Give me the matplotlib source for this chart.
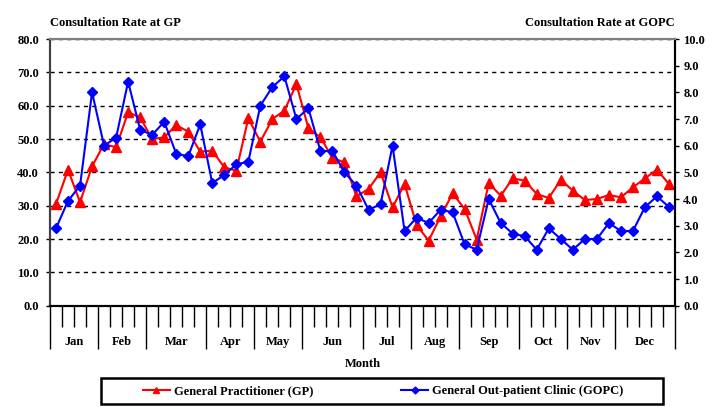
import matplotlib
matplotlib.use("Agg")
import matplotlib.pyplot as plt
import numpy as np
from matplotlib.lines import Line2D
from matplotlib.patches import Rectangle

months = ["Jan", "Feb", "Mar", "Apr", "May", "Jun",
          "Jul", "Aug", "Sep", "Oct", "Nov", "Dec"]
weeks_per_month = [4, 4, 5, 4, 4, 5, 4, 4, 5, 4, 4, 5]

# weekly consultation rate at GP (left axis)
gp_rate = [30.5, 40.8, 31.0, 41.8, 48.5, 47.5, 58.0, 56.5, 50.0, 50.5,
           54.2, 52.2, 46.2, 46.5, 41.5, 40.5, 56.2, 49.2, 56.0, 58.5,
           66.5, 53.2, 50.5, 44.3, 43.0, 32.8, 35.0, 40.0, 29.5, 36.5,
           24.2, 19.5, 26.8, 33.7, 29.0, 19.8, 36.8, 33.0, 38.2, 37.5,
           33.5, 32.3, 37.8, 34.5, 31.7, 32.0, 33.2, 32.5, 35.5, 38.2,
           40.8, 36.5]

# weekly consultation rate at GOPC (right axis)
gopc_rate = [2.9, 3.93, 4.5, 8.0, 6.0, 6.3, 8.4, 6.6, 6.4, 6.9,
             5.7, 5.6, 6.8, 4.6, 4.9, 5.3, 5.4, 7.5, 8.2, 8.6,
             7.0, 7.4, 5.8, 5.8, 5.0, 4.5, 3.6, 3.8, 6.0, 2.8,
             3.3, 3.1, 3.6, 3.5, 2.3, 2.1, 4.0, 3.1, 2.7, 2.6,
             2.1, 2.9, 2.5, 2.1, 2.5, 2.5, 3.1, 2.8, 2.8, 3.7,
             4.1, 3.7]

plt.rcParams["font.family"] = ["Liberation Serif", "DejaVu Serif"]
plt.rcParams["font.weight"] = "bold"
plt.rcParams["font.size"] = 9

W, H = 724, 419
ax_h = 266.7
fig = plt.figure(figsize=(W / 100, H / 100), dpi=100)
ax = fig.add_axes([50 / W, 1 - 305.7 / H, 625 / W, ax_h / H])
ax2 = ax.twinx()

x = np.arange(len(gp_rate))

ax.plot(x, gp_rate, color="#FF0000", lw=1.5, marker="^", ms=7,
        mfc="#FF0000", mec="#FF0000", zorder=3, clip_on=False)
ax2.plot(x, gopc_rate, color="#0000FF", lw=1.5, marker="D", ms=5,
         mfc="#0000FF", mec="#0000FF", zorder=3, clip_on=False)

ax.set_xlim(-0.5, len(gp_rate) - 0.5)
ax.set_ylim(0, 80)
ax2.set_ylim(0, 10)
ax.set_yticks(np.arange(0, 81, 10))
ax2.set_yticks(np.arange(0, 11, 1))
ax.set_yticklabels([f"{v:.1f}" for v in np.arange(0, 81, 10)], fontweight="bold")
ax2.set_yticklabels([f"{v:.1f}" for v in np.arange(0, 11, 1)], fontweight="bold")

ax.yaxis.grid(True, linestyle=(0, (3, 3)), color="black", lw=1)
ax.set_axisbelow(True)

# month boundaries as long ticks, week boundaries as short ticks
bounds = np.concatenate([[0], np.cumsum(weeks_per_month)]) - 0.5
ax.set_xticks(bounds)
ax.set_xticks(np.arange(-0.5, len(gp_rate)), minor=True)
ax.set_xticklabels([])
ax.tick_params(axis="x", which="major", length=31, width=1, color="black")
ax.tick_params(axis="x", which="minor", length=15, width=1, color="black")
ax.tick_params(axis="y", length=3, width=1, pad=5)
ax2.tick_params(axis="y", length=3, width=1, pad=3)

for i, m in enumerate(months):
    center = (bounds[i] + bounds[i + 1]) / 2
    ax.text(center, -36 / ax_h, m, transform=ax.get_xaxis_transform(),
            ha="center", va="center", fontweight="bold")

for a in (ax, ax2):
    a.spines["top"].set_color("#808080")
    a.spines["top"].set_linewidth(1.5)
    a.spines["left"].set_color("#404040")
    a.spines["left"].set_linewidth(1.5)
    a.spines["right"].set_color("black")
    a.spines["right"].set_linewidth(1.5)
    a.spines["bottom"].set_color("black")
    a.spines["bottom"].set_linewidth(1.5)

fig.text(50 / W, 1 - 23 / H, "Consultation Rate at GP", ha="left", va="center")
fig.text(675 / W, 1 - 23 / H, "Consultation Rate at GOPC", ha="right", va="center")
fig.text(363 / W, 1 - 364 / H, "Month", ha="center", va="center")

# legend box
fig.patches.append(Rectangle((100.5 / W, 1 - 404 / H), 562.5 / W, 26 / H,
                             transform=fig.transFigure, fill=False,
                             edgecolor="black", lw=1.8))
handles = [
    Line2D([], [], color="#FF0000", lw=1.5, marker="^", ms=5),
    Line2D([], [], color="#0000FF", lw=1.5, marker="D", ms=3.5),
]
fig.legend(handles, ["General Practitioner (GP)", "General Out-patient Clinic (GOPC)"],
           loc="center", bbox_to_anchor=(383 / W, 1 - 391 / H), ncol=2,
           frameon=False, handlelength=2.2, handletextpad=0.3, columnspacing=7)

fig.savefig("out.png", dpi=100)
